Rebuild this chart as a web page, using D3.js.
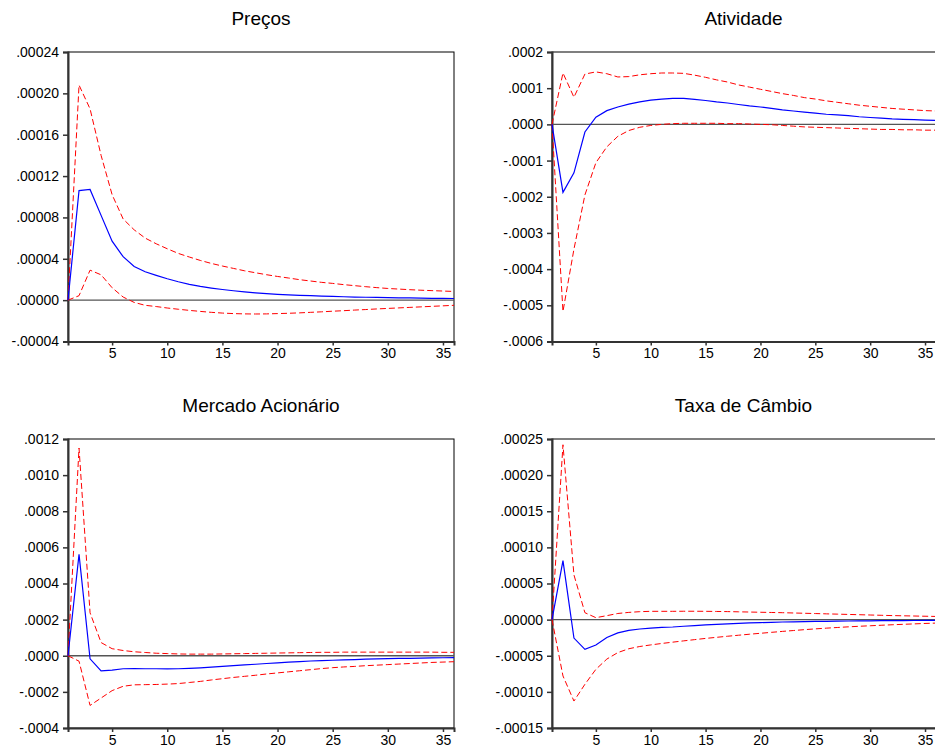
<!DOCTYPE html>
<html>
<head>
<meta charset="utf-8">
<script src="https://cdn.jsdelivr.net/npm/d3@7"></script>
<style>
body { margin: 0; background: #fff; }
text { font-family: "Liberation Sans", Arial, sans-serif; fill: #000; }
</style>
</head>
<body>
<div class="chart"></div>
<script>
const width = 935
const height = 750

const periods = d3.range(1, 37)

// Preços (x 1e-5)
const precosResp = [0, 10.6, 10.7, 8.2, 5.7, 4.2, 3.25, 2.75, 2.4, 2.07, 1.78, 1.53, 1.33, 1.17, 1.03, 0.91, 0.80, 0.71, 0.63, 0.56, 0.51, 0.47, 0.43, 0.39, 0.36, 0.33, 0.30, 0.28, 0.26, 0.24, 0.22, 0.21, 0.20, 0.18, 0.17, 0.16]
const precosUpper = [0, 20.8, 18.5, 14.0, 10.2, 7.85, 6.8, 6.0, 5.45, 4.97, 4.52, 4.17, 3.84, 3.55, 3.30, 3.07, 2.84, 2.65, 2.46, 2.29, 2.14, 1.98, 1.85, 1.72, 1.62, 1.50, 1.40, 1.30, 1.21, 1.13, 1.07, 1.01, 0.96, 0.92, 0.88, 0.84]
const precosLower = [0, 0.43, 2.9, 2.45, 1.2, 0.3, -0.22, -0.5, -0.62, -0.76, -0.88, -0.99, -1.09, -1.18, -1.25, -1.3, -1.33, -1.34, -1.33, -1.3, -1.27, -1.23, -1.18, -1.13, -1.07, -1.02, -0.96, -0.91, -0.85, -0.8, -0.75, -0.7, -0.65, -0.6, -0.55, -0.5]
const precosTicks = [-0.00004, 0, 0.00004, 0.00008, 0.00012, 0.00016, 0.00020, 0.00024]

// Atividade (x 1e-4)
const atividadeResp = [0, -1.88, -1.34, -0.21, 0.2, 0.38, 0.48, 0.56, 0.62, 0.67, 0.70, 0.72, 0.72, 0.69, 0.66, 0.62, 0.59, 0.55, 0.51, 0.48, 0.44, 0.40, 0.37, 0.34, 0.31, 0.28, 0.26, 0.24, 0.21, 0.19, 0.17, 0.15, 0.14, 0.13, 0.12, 0.11]
const atividadeUpper = [0, 1.42, 0.75, 1.39, 1.45, 1.40, 1.31, 1.32, 1.37, 1.40, 1.42, 1.42, 1.41, 1.36, 1.30, 1.23, 1.17, 1.09, 1.03, 0.97, 0.91, 0.85, 0.80, 0.74, 0.70, 0.65, 0.61, 0.57, 0.53, 0.50, 0.47, 0.44, 0.42, 0.40, 0.38, 0.37]
const atividadeLower = [0, -5.17, -3.45, -1.95, -1.06, -0.62, -0.33, -0.17, -0.08, -0.03, 0.0, 0.02, 0.03, 0.03, 0.03, 0.03, 0.02, 0.02, 0.01, 0.0, -0.01, -0.03, -0.05, -0.07, -0.08, -0.09, -0.1, -0.11, -0.12, -0.13, -0.14, -0.14, -0.15, -0.15, -0.16, -0.16]
const atividadeTicks = [-0.0006, -0.0005, -0.0004, -0.0003, -0.0002, -0.0001, 0, 0.0001, 0.0002]

// Mercado Acionário (x 1e-4)
const mercadoResp = [0, 5.62, -0.17, -0.84, -0.80, -0.72, -0.71, -0.72, -0.72, -0.73, -0.72, -0.70, -0.67, -0.63, -0.59, -0.55, -0.51, -0.47, -0.43, -0.39, -0.35, -0.32, -0.29, -0.27, -0.25, -0.23, -0.21, -0.19, -0.17, -0.16, -0.15, -0.14, -0.13, -0.12, -0.11, -0.10]
const mercadoUpper = [0, 11.5, 2.38, 0.73, 0.39, 0.29, 0.22, 0.18, 0.14, 0.12, 0.10, 0.09, 0.09, 0.09, 0.10, 0.11, 0.12, 0.13, 0.14, 0.15, 0.16, 0.17, 0.18, 0.19, 0.19, 0.2, 0.2, 0.2, 0.2, 0.2, 0.2, 0.2, 0.2, 0.2, 0.19, 0.19]
const mercadoLower = [0, -0.30, -2.75, -2.34, -1.93, -1.69, -1.61, -1.6, -1.59, -1.57, -1.54, -1.48, -1.42, -1.34, -1.27, -1.2, -1.14, -1.08, -1.01, -0.95, -0.89, -0.83, -0.77, -0.71, -0.66, -0.62, -0.59, -0.55, -0.52, -0.49, -0.46, -0.43, -0.40, -0.37, -0.35, -0.33]
const mercadoTicks = [-0.0004, -0.0002, 0, 0.0002, 0.0004, 0.0006, 0.0008, 0.0010, 0.0012]

// Taxa de Câmbio (x 1e-5)
const cambioResp = [0, 8.17, -2.55, -4.11, -3.52, -2.48, -1.84, -1.48, -1.3, -1.18, -1.08, -1.02, -0.92, -0.82, -0.73, -0.65, -0.58, -0.52, -0.46, -0.41, -0.37, -0.33, -0.30, -0.27, -0.25, -0.23, -0.21, -0.19, -0.17, -0.16, -0.15, -0.14, -0.13, -0.12, -0.11, -0.10]
const cambioUpper = [0, 24.2, 6.19, 0.96, 0.27, 0.55, 0.85, 1.0, 1.1, 1.15, 1.15, 1.15, 1.16, 1.16, 1.15, 1.13, 1.11, 1.08, 1.05, 1.02, 0.99, 0.96, 0.92, 0.88, 0.84, 0.80, 0.76, 0.72, 0.68, 0.64, 0.60, 0.56, 0.53, 0.50, 0.47, 0.44]
const cambioLower = [0, -7.8, -11.27, -8.95, -6.88, -5.46, -4.56, -4.03, -3.72, -3.5, -3.3, -3.12, -2.94, -2.77, -2.6, -2.45, -2.3, -2.16, -2.02, -1.89, -1.76, -1.63, -1.51, -1.39, -1.28, -1.18, -1.09, -1.0, -0.92, -0.85, -0.78, -0.71, -0.65, -0.59, -0.53, -0.48]
const cambioTicks = [-0.00015, -0.00010, -0.00005, 0, 0.00005, 0.00010, 0.00015, 0.00020, 0.00025]

const xTicks = [5, 10, 15, 20, 25, 30, 35]

const panels = [
    { title: "Preços", unit: 1e-5, digits: 5, resp: precosResp, upper: precosUpper, lower: precosLower, ticks: precosTicks,
      left: 68, right: 454, top: 52, bottom: 341.5 },
    { title: "Atividade", unit: 1e-4, digits: 4, resp: atividadeResp, upper: atividadeUpper, lower: atividadeLower, ticks: atividadeTicks,
      left: 552, right: 936, top: 52, bottom: 341.5 },
    { title: "Mercado Acionário", unit: 1e-4, digits: 4, resp: mercadoResp, upper: mercadoUpper, lower: mercadoLower, ticks: mercadoTicks,
      left: 68, right: 454, top: 439, bottom: 728 },
    { title: "Taxa de Câmbio", unit: 1e-5, digits: 5, resp: cambioResp, upper: cambioUpper, lower: cambioLower, ticks: cambioTicks,
      left: 552, right: 936, top: 439, bottom: 728 }
]

const svg = d3.select(".chart")
    .append("svg")
    .attr("width", width)
    .attr("height", height)

// eviews style labels: ".00024", "-.0002"
function fmtTick(v, digits) {
    const s = Math.abs(v).toFixed(digits).replace(/^0/, "")
    return (v < 0 ? "-" : "") + s
}

panels.forEach(function(p) {
    const x = d3.scaleLinear()
        .domain([1, 36])
        .range([p.left, p.right])

    const y = d3.scaleLinear()
        .domain([p.ticks[0], p.ticks[p.ticks.length - 1]])
        .range([p.bottom, p.top])

    const g = svg.append("g")

    // frame
    g.append("rect")
        .attr("x", p.left)
        .attr("y", p.top)
        .attr("width", p.right - p.left)
        .attr("height", p.bottom - p.top)
        .attr("fill", "none")
        .attr("stroke", "#000")
        .attr("stroke-width", 1)

    const yAxis = d3.axisLeft(y)
        .tickValues(p.ticks)
        .tickSize(5)
        .tickPadding(4)
        .tickFormat(d => fmtTick(d, p.digits))

    g.append("g")
        .attr("transform", "translate(" + p.left + ",0)")
        .call(yAxis)
        .call(a => a.select(".domain").attr("stroke", "#333").attr("stroke-width", 2))
        .call(a => a.selectAll(".tick line").attr("stroke", "#333").attr("stroke-width", 1.5))
        .selectAll("text")
            .style("font-size", "14px")
            .style("font-family", "Liberation Sans, Arial, sans-serif")
            .attr("fill", "#000")

    const xAxis = d3.axisBottom(x)
        .tickValues(xTicks)
        .tickSize(4)
        .tickPadding(3)
        .tickFormat(d3.format("d"))

    g.append("g")
        .attr("transform", "translate(0," + p.bottom + ")")
        .call(xAxis)
        .call(a => a.select(".domain").attr("stroke", "#333").attr("stroke-width", 2))
        .call(a => a.selectAll(".tick line").attr("stroke", "#333").attr("stroke-width", 1.5))
        .selectAll("text")
            .style("font-size", "14px")
            .style("font-family", "Liberation Sans, Arial, sans-serif")
            .attr("fill", "#000")

    // zero line
    g.append("line")
        .attr("x1", p.left)
        .attr("x2", p.right)
        .attr("y1", y(0))
        .attr("y2", y(0))
        .attr("stroke", "#555")
        .attr("stroke-width", 1.4)

    const line = d3.line()
        .x((d, i) => x(periods[i]))
        .y(d => y(d * p.unit))

    g.append("path")
        .attr("d", line(p.upper))
        .attr("fill", "none")
        .attr("stroke", "#ff0000")
        .attr("stroke-width", 1)
        .attr("stroke-dasharray", "6,3")

    g.append("path")
        .attr("d", line(p.lower))
        .attr("fill", "none")
        .attr("stroke", "#ff0000")
        .attr("stroke-width", 1)
        .attr("stroke-dasharray", "6,3")

    g.append("path")
        .attr("d", line(p.resp))
        .attr("fill", "none")
        .attr("stroke", "#0000ff")
        .attr("stroke-width", 1.2)

    g.append("text")
        .attr("x", (p.left + Math.min(p.right, width)) / 2)
        .attr("y", p.top - 27)
        .attr("text-anchor", "middle")
        .style("font-size", "19px")
        .text(p.title)
})
</script>
</body>
</html>
